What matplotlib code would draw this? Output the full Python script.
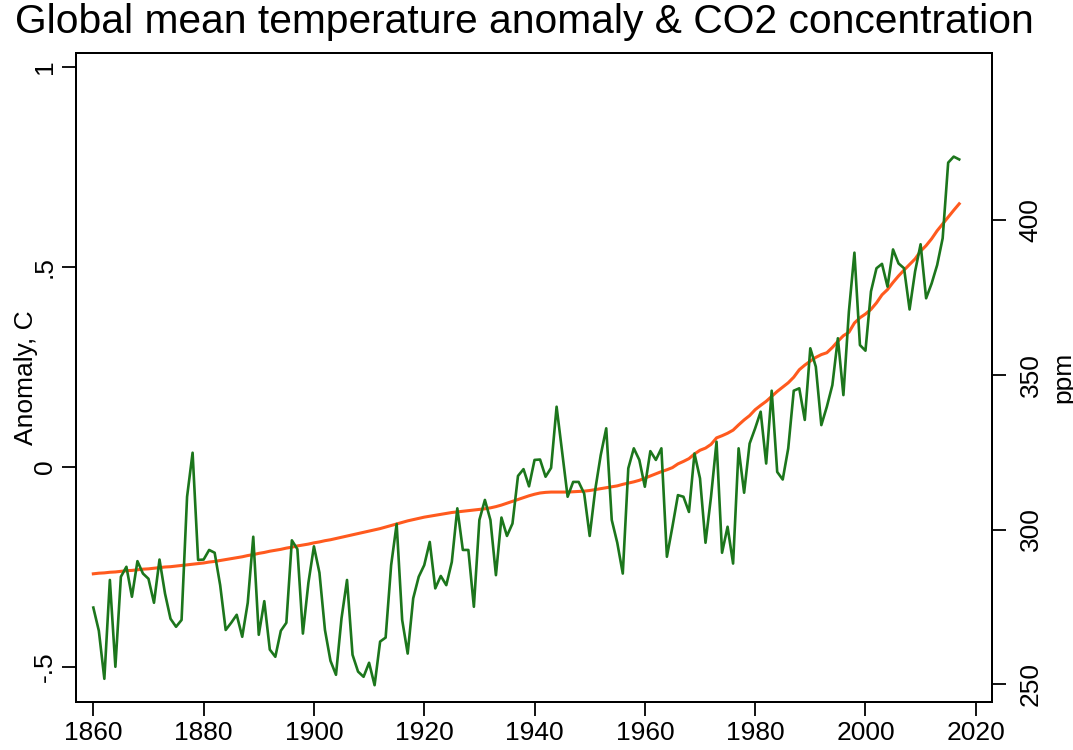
import numpy as np
import matplotlib
matplotlib.use("Agg")
import matplotlib.pyplot as plt

plt.rcParams['font.family'] = ['Liberation Sans', 'DejaVu Sans']

# Annual series, 1860-2017
years = list(range(1860, 2018))

anomaly = [
    -0.352, -0.41, -0.53, -0.283, -0.50, -0.275, -0.25, -0.325, -0.236, -0.267,   # 1860s
    -0.28, -0.34, -0.232, -0.317, -0.38, -0.40, -0.383, -0.075, 0.035, -0.233,     # 1870s
    -0.232, -0.208, -0.215, -0.296, -0.408, -0.39, -0.37, -0.425, -0.34, -0.175,  # 1880s
    -0.42, -0.336, -0.457, -0.475, -0.41, -0.39, -0.184, -0.206, -0.417, -0.29,    # 1890s
    -0.199, -0.265, -0.408, -0.485, -0.52, -0.379, -0.283, -0.47, -0.512, -0.525,  # 1900s
    -0.49, -0.546, -0.437, -0.427, -0.246, -0.143, -0.383, -0.467, -0.329, -0.275, # 1910s
    -0.246, -0.188, -0.304, -0.273, -0.296, -0.238, -0.104, -0.208, -0.208, -0.35, # 1920s
    -0.133, -0.083, -0.133, -0.271, -0.127, -0.173, -0.142, -0.023, -0.006, -0.049,# 1930s
    0.017, 0.018, -0.025, -0.003, 0.150, 0.037, -0.075, -0.038, -0.038, -0.067,    # 1940s
    -0.173, -0.058, 0.029, 0.096, -0.133, -0.19, -0.267, -0.004, 0.046, 0.017,     # 1950s
    -0.05, 0.039, 0.017, 0.046, -0.225, -0.15, -0.071, -0.075, -0.113, 0.033,      # 1960s
    -0.029, -0.19, -0.075, 0.0625, -0.215, -0.15, -0.242, 0.046, -0.065, 0.058,    # 1970s
    0.096, 0.1375, 0.008, 0.19, -0.013, -0.032, 0.046, 0.19, 0.196, 0.117,         # 1980s
    0.296, 0.25, 0.104, 0.15, 0.204, 0.321, 0.179, 0.388, 0.535, 0.304,            # 1990s
    0.29, 0.438, 0.496, 0.507, 0.45, 0.543, 0.508, 0.496, 0.393, 0.488,            # 2000s
    0.556, 0.421, 0.458, 0.504, 0.571, 0.76, 0.775, 0.768,                         # 2010-2017
]

co2_ppm = [
    285.7, 285.9, 286.0, 286.2, 286.3, 286.5, 286.7, 286.8, 287.0, 287.2,
    287.3, 287.5, 287.7, 287.9, 288.0, 288.2, 288.4, 288.6, 288.8, 289.0,
    289.2, 289.5, 289.7, 290.0, 290.3, 290.6, 290.9, 291.2, 291.6, 291.9,
    292.3, 292.6, 293.0, 293.3, 293.6, 294.0, 294.3, 294.7, 295.0, 295.3,
    295.7, 296.0, 296.4, 296.7, 297.1, 297.5, 297.9, 298.3, 298.7, 299.1,
    299.5, 299.9, 300.3, 300.8, 301.3, 301.8, 302.3, 302.8, 303.2, 303.6,
    304.0, 304.3, 304.6, 304.9, 305.2, 305.5, 305.7, 305.9, 306.1, 306.3,
    306.5, 306.7, 307.0, 307.4, 307.9, 308.5, 309.1, 309.7, 310.3, 310.9,
    311.4, 311.8, 312.0, 312.1, 312.1, 312.1, 312.1, 312.2, 312.3, 312.4,
    312.6, 312.9, 313.2, 313.5, 313.8, 314.1, 314.6, 315.0, 315.4, 315.9,
    316.6, 317.3, 318.0, 318.7, 319.3, 320.0, 321.2, 322.0, 322.9, 324.4,
    325.6, 326.3, 327.5, 329.6, 330.3, 331.1, 332.1, 333.8, 335.4, 336.8,
    338.7, 340.1, 341.4, 343.0, 344.6, 346.0, 347.4, 349.2, 351.6, 353.1,
    354.4, 355.6, 356.5, 357.1, 358.8, 360.8, 362.6, 363.7, 366.7, 368.4,
    369.6, 371.1, 373.2, 375.8, 377.5, 379.8, 381.9, 383.8, 385.6, 387.4,
    389.9, 391.7, 393.9, 396.5, 398.7, 400.9, 403.1, 405.2,
]

x_ticks = [1860, 1880, 1900, 1920, 1940, 1960, 1980, 2000, 2020]
anom_ticks = [-0.5, 0, 0.5, 1]
anom_tick_labels = ["-.5", "0", ".5", "1"]
ppm_ticks = [250, 300, 350, 400]

title = "Global mean temperature anomaly & CO2 concentration"

green = "#1c761c"
orange = "#ff5a1e"
fs = 19

fig = plt.figure(figsize=(10.73, 7.5), dpi=100)
ax = fig.add_axes([76 / 1073, 1 - 702 / 750, (992.3 - 76) / 1073, (702 - 53) / 750])
ax2 = ax.twinx()

ax.plot(years, anomaly, color=green, lw=1.9, zorder=3)
ax2.plot(years, co2_ppm, color=orange, lw=2.2, zorder=2)
ax.set_zorder(ax2.get_zorder() + 1)
ax.patch.set_visible(False)

ax.set_xlim(1856.86, 2023.0)
ax.set_ylim(-0.588, 1.034)
ax2.set_ylim(244.3, 453.9)

ax.set_xticks(x_ticks)
ax.set_xticklabels([str(t) for t in x_ticks], fontsize=fs)
ax.set_yticks(anom_ticks)
ax.set_yticklabels(anom_tick_labels, fontsize=fs, rotation=90, va="center")
ax2.set_yticks(ppm_ticks)
ax2.set_yticklabels([str(t) for t in ppm_ticks], fontsize=fs, rotation=90, va="center")

ax.tick_params(axis="both", direction="out", length=10, width=1.3, pad=4)
ax2.tick_params(axis="y", direction="out", length=10, width=1.3, pad=9)

ax.set_ylabel("Anomaly, C", fontsize=fs, labelpad=-4)
ax2.set_ylabel("ppm", fontsize=fs, rotation=90, labelpad=6)

for a in (ax, ax2):
    for s in a.spines.values():
        s.set_linewidth(1.4)
        s.set_color("black")

fig.text(524 / 1073, 1 - 22 / 750, title, ha="center", va="center", fontsize=29.3)

fig.savefig("out.png", dpi=100, facecolor="white")
